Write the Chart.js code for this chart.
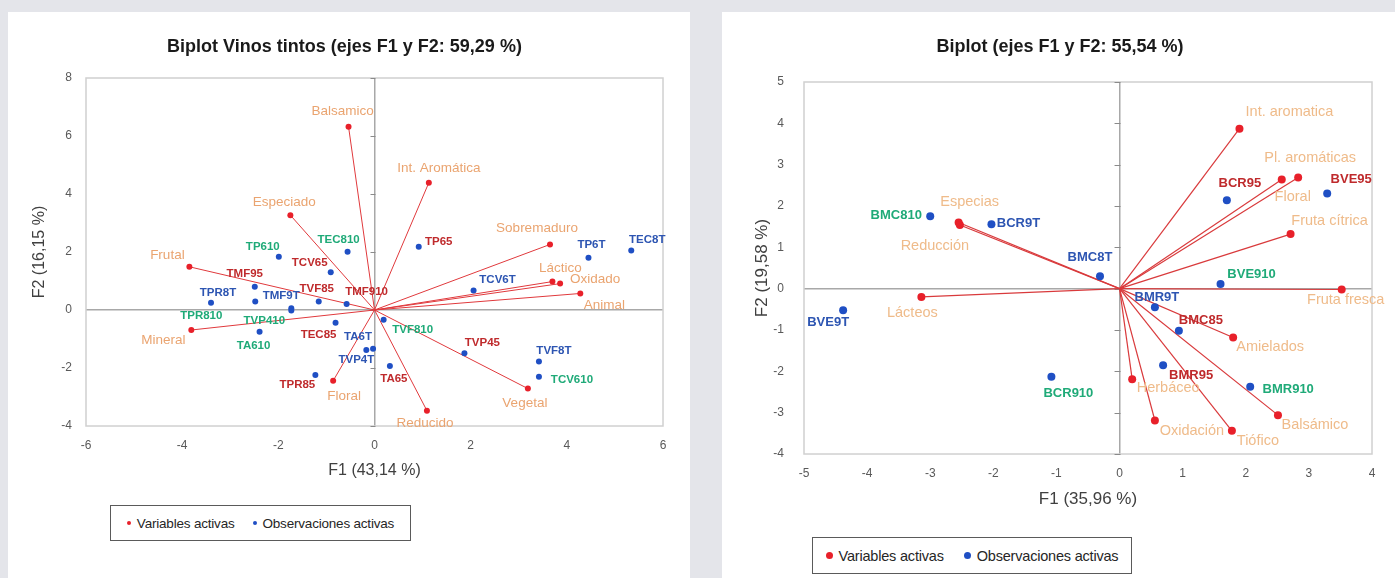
<!DOCTYPE html>
<html>
<head>
<meta charset="utf-8">
<script src="https://cdn.jsdelivr.net/npm/chart.js@4.4.1/dist/chart.umd.min.js"></script>
<style>
  body { margin: 0; width: 1395px; height: 578px; background: #e4e5ea; position: relative; overflow: hidden; font-family: 'Liberation Sans', Arial, sans-serif; }
  .panel { position: absolute; top: 12px; height: 566px; background: #fff; }
  #leftPanel { left: 8px; width: 682px; }
  #rightPanel { left: 722px; width: 673px; }
  .chartBox { position: absolute; left: 0; top: 0; width: 100%; height: 100%; }
  .legend { position: absolute; box-sizing: border-box; border: 1px solid #5a5a5a; background: #fff; display: flex; align-items: center; justify-content: center; white-space: nowrap; font-family: 'Liberation Sans', Arial, sans-serif; color: #262626; }
  .legend span { display: inline-flex; align-items: center; }
  .legend i { display: inline-block; border-radius: 50%; margin-right: 6px; }
  #leftLegend { left: 102px; top: 493px; width: 301px; height: 36px; font-size: 13.5px; gap: 18px; letter-spacing: -0.2px; }
  #leftLegend i { width: 4px; height: 4px; }
  #rightLegend { left: 90px; top: 525px; width: 320px; height: 37px; font-size: 14.5px; gap: 20px; letter-spacing: -0.2px; }
  #rightLegend i { width: 7px; height: 7px; }
</style>
</head>
<body>
<div class="panel" id="leftPanel">
  <div class="chartBox"><canvas id="tintos"></canvas></div>
  <div class="legend" id="leftLegend">
    <span><i style="background:#e8202a"></i>Variables activas</span>
    <span><i style="background:#1f4fc4"></i>Observaciones activas</span>
  </div>
</div>
<div class="panel" id="rightPanel">
  <div class="chartBox"><canvas id="blancos"></canvas></div>
  <div class="legend" id="rightLegend">
    <span><i style="background:#e8202a"></i>Variables activas</span>
    <span><i style="background:#1f4fc4"></i>Observaciones activas</span>
  </div>
</div>
<script>
// ---- Vinos tintos (left) ----
const tintoVarNames = ["Balsamico", "Especiado", "Frutal", "Mineral", "Floral", "Int. Aromática",
  "Sobremaduro", "Láctico", "Oxidado", "Animal", "Vegetal", "Reducido"];
const tintoVarF1 = [-0.54, -1.75, -3.85, -3.81, -0.86, 1.13, 3.65, 3.70, 3.86, 4.28, 3.19, 1.09];
const tintoVarF2 = [6.32, 3.27, 1.49, -0.69, -2.44, 4.39, 2.26, 0.98, 0.91, 0.57, -2.71, -3.47];

const tintoObsNames = ["TEC810", "TP610", "TCV65", "TMF95", "TMF9T", "TPR8T", "TPR810", "TVP410",
  "TVF85", "TMF910", "TEC85", "TA610", "TVP4T", "TA6T", "TPR85", "TVF810", "TA65", "TVP45",
  "TVF8T", "TCV610", "TCV6T", "TP65", "TP6T", "TEC8T"];
const tintoObsF1 = [-0.56, -1.99, -0.91, -2.49, -2.48, -3.40, -1.73, -1.73, -1.16, -0.58, -0.81, -2.39,
  -0.17, -0.03, -1.23, 0.19, 0.32, 1.87, 3.42, 3.42, 2.06, 0.92, 4.45, 5.34];
const tintoObsF2 = [2.01, 1.84, 1.30, 0.80, 0.29, 0.25, 0.06, -0.02, 0.29, 0.21, -0.44, -0.75,
  -1.38, -1.34, -2.24, -0.34, -1.93, -1.49, -1.78, -2.30, 0.67, 2.18, 1.80, 2.05];
const tintoObsGroup = ["g", "g", "r", "r", "b", "b", "g", "g", "r", "r", "r", "g",
  "b", "b", "r", "g", "r", "r", "b", "g", "b", "r", "b", "b"];

// ---- Biplot (right) ----
const blancoVarNames = ["Int. aromatica", "Pl. aromáticas", "Floral", "Fruta cítrica", "Fruta fresca",
  "Amielados", "Herbáceo", "Oxidación", "Tiófico", "Balsámico", "Especias", "Reducción", "Lácteos"];
const blancoVarF1 = [1.90, 2.83, 2.57, 2.71, 3.52, 1.80, 0.20, 0.56, 1.78, 2.51, -2.55, -2.53, -3.14];
const blancoVarF2 = [3.87, 2.69, 2.64, 1.32, -0.02, -1.18, -2.19, -3.19, -3.44, -3.06, 1.60, 1.54, -0.20];

const blancoObsNames = ["BMC810", "BCR9T", "BMC8T", "BCR95", "BVE95", "BVE910", "BMR9T", "BMC85",
  "BMR95", "BMR910", "BCR910", "BVE9T"];
const blancoObsF1 = [-3.00, -2.03, -0.31, 1.70, 3.29, 1.60, 0.56, 0.94, 0.69, 2.07, -1.08, -4.38];
const blancoObsF2 = [1.75, 1.56, 0.30, 2.14, 2.30, 0.11, -0.45, -1.02, -1.85, -2.37, -2.13, -0.52];
const blancoObsGroup = ["g", "b", "b", "r", "r", "g", "b", "r", "r", "g", "g", "b"];

// label placement (pixel offsets from the point), kept apart from the data
const tintoLabelOffsets = {
  "Balsamico": [-6, -15], "Especiado": [-6, -13], "Frutal": [-22, -12], "Mineral": [-28, 10],
  "Floral": [11, 16], "Int. Aromática": [10, -14], "Sobremaduro": [-13, -16], "Láctico": [8, -13],
  "Oxidado": [35, -4], "Animal": [24, 12], "Vegetal": [-3, 15], "Reducido": [-2, 13],
  "TEC810": [-9, -12], "TP610": [-16, -10], "TCV65": [-21, -9], "TMF95": [-10, -13],
  "TMF9T": [26, -6], "TPR8T": [7, -10], "TPR810": [-90, 8], "TVP410": [-27, 10],
  "TVF85": [-2, -13], "TMF910": [20, -12], "TEC85": [-17, 12], "TA610": [-6, 14],
  "TVP4T": [-10, 10], "TA6T": [-15, -12], "TPR85": [-18, 10], "TVF810": [29, 10],
  "TA65": [4, 13], "TVP45": [18, -10], "TVF8T": [15, -11], "TCV610": [33, 3],
  "TCV6T": [24, -11], "TP65": [20, -5], "TP6T": [3, -13], "TEC8T": [16, -11]
};
const blancoLabelOffsets = {
  "Int. aromatica": [50, -17], "Pl. aromáticas": [12, -19], "Floral": [11, 17], "Fruta cítrica": [39, -13],
  "Fruta fresca": [4, 11], "Amielados": [37, 10], "Herbáceo": [36, 9], "Oxidación": [37, 10],
  "Tiófico": [26, 10], "Balsámico": [37, 10], "Especias": [11, -21], "Reducción": [-25, 21],
  "Lácteos": [-9, 16],
  "BMC810": [-34, -1], "BCR9T": [27, -1], "BMC8T": [-10, -19], "BCR95": [13, -17],
  "BVE95": [24, -14], "BVE910": [31, -10], "BMR9T": [2, -10], "BMC85": [22, -10],
  "BMR95": [28, 10], "BMR910": [38, 3], "BCR910": [17, 17], "BVE9T": [-15, 12]
};

const groupColors = { r: "#bf2a2c", b: "#2d55b2", g: "#1faa78" };

Chart.defaults.font.family = "'Liberation Sans', Arial, sans-serif";
Chart.defaults.color = "#595959";

// frame, ticks on the F2 zero line and point labels
const biplotDecor = {
  id: "biplotDecor",
  beforeDatasetsDraw(chart, args, opts) {
    const { ctx, chartArea: a, scales: { x, y } } = chart;
    ctx.save();
    ctx.strokeStyle = "#d0d0d0";
    ctx.lineWidth = 1.5;
    ctx.strokeRect(a.left, a.top, a.width, a.height);
    const x0 = x.getPixelForValue(0);
    ctx.strokeStyle = "#8a8a8a";
    ctx.lineWidth = 1;
    y.ticks.forEach(t => {
      const py = Math.round(y.getPixelForValue(t.value)) + 0.5;
      ctx.beginPath();
      ctx.moveTo(x0 - opts.tickLen, py);
      ctx.lineTo(x0 + 1, py);
      ctx.stroke();
    });
    ctx.restore();
  },
  afterDatasetsDraw(chart, args, opts) {
    const ctx = chart.ctx;
    ctx.save();
    ctx.textAlign = "center";
    ctx.textBaseline = "middle";
    chart.data.datasets.forEach((ds, di) => {
      if (!ds.pointNames) return;
      const meta = chart.getDatasetMeta(di);
      ctx.font = ds.labelFont;
      meta.data.forEach((pt, i) => {
        const name = ds.pointNames[i];
        const off = opts.offsets[name] || [0, -10];
        ctx.fillStyle = ds.labelColors[i];
        ctx.fillText(name, pt.x + off[0], pt.y + off[1]);
      });
    });
    ctx.restore();
  }
};

function makeBiplot(canvasId, cfg) {
  const varPoints = cfg.varF1.map((v, i) => ({ x: v, y: cfg.varF2[i] }));
  const obsPoints = cfg.obsF1.map((v, i) => ({ x: v, y: cfg.obsF2[i] }));

  const vectors = varPoints.map(p => ({
    data: [{ x: 0, y: 0 }, p],
    showLine: true,
    borderColor: cfg.lineColor,
    borderWidth: cfg.lineWidth,
    pointRadius: 0,
    order: 3
  }));

  const datasets = [
    {
      label: "Observaciones activas",
      data: obsPoints,
      pointNames: cfg.obsNames,
      labelColors: cfg.obsGroup.map(g => groupColors[g]),
      labelFont: cfg.obsFont,
      backgroundColor: "#1f4fc4",
      borderWidth: 0,
      pointRadius: cfg.pointRadius,
      order: 1
    },
    {
      label: "Variables activas",
      data: varPoints,
      pointNames: cfg.varNames,
      labelColors: cfg.varNames.map(() => cfg.varLabelColor),
      labelFont: cfg.varFont,
      backgroundColor: "#e8202a",
      borderWidth: 0,
      pointRadius: cfg.pointRadius,
      order: 2
    }
  ].concat(vectors);

  const zeroGrid = {
    drawTicks: false,
    color: c => (c.tick && c.tick.value === 0 ? "#a8a8a8" : "rgba(0,0,0,0)"),
    lineWidth: 1.5
  };

  return new Chart(document.getElementById(canvasId), {
    type: "scatter",
    data: { datasets },
    plugins: [biplotDecor],
    options: {
      responsive: true,
      maintainAspectRatio: false,
      animation: false,
      layout: { padding: cfg.padding },
      plugins: {
        legend: { display: false },
        tooltip: { enabled: false },
        title: {
          display: true,
          text: cfg.title,
          color: "#1a1a1a",
          font: { size: 18, weight: "bold", lineHeight: 1 },
          padding: { top: 0, bottom: cfg.titleGap }
        },
        biplotDecor: { offsets: cfg.offsets, tickLen: cfg.tickLen }
      },
      scales: {
        x: {
          min: cfg.xMin, max: cfg.xMax,
          ticks: { stepSize: cfg.xStep, padding: cfg.xTickPad, font: { size: 12 } },
          grid: zeroGrid,
          border: { display: false },
          title: { display: true, text: cfg.xTitle, color: "#404040", font: { size: cfg.axisTitleSize } },
          afterFit(scale) { scale.height = cfg.xAxisHeight; }
        },
        y: {
          min: cfg.yMin, max: cfg.yMax,
          ticks: { stepSize: cfg.yStep, padding: cfg.yTickPad, font: { size: 12 } },
          grid: zeroGrid,
          border: { display: false },
          title: { display: true, text: cfg.yTitle, color: "#404040", font: { size: cfg.axisTitleSize } },
          afterFit(scale) { scale.width = cfg.yAxisWidth; }
        }
      }
    }
  });
}

makeBiplot("tintos", {
  title: "Biplot Vinos tintos (ejes F1 y F2: 59,29 %)",
  xTitle: "F1 (43,14 %)", yTitle: "F2 (16,15 %)",
  varNames: tintoVarNames, varF1: tintoVarF1, varF2: tintoVarF2,
  obsNames: tintoObsNames, obsF1: tintoObsF1, obsF2: tintoObsF2, obsGroup: tintoObsGroup,
  offsets: tintoLabelOffsets,
  xMin: -6, xMax: 6, xStep: 2, yMin: -4, yMax: 8, yStep: 2,
  padding: { top: 26, left: 18, right: 27, bottom: 94 },
  titleGap: 22, yAxisWidth: 60, xAxisHeight: 58, xTickPad: 12, yTickPad: 14,
  axisTitleSize: 16, tickLen: 4,
  lineColor: "#e0393c", lineWidth: 1, pointRadius: 3,
  varLabelColor: "#eaa470",
  varFont: "13.5px 'Liberation Sans', Arial, sans-serif",
  obsFont: "bold 11.5px 'Liberation Sans', Arial, sans-serif"
});

makeBiplot("blancos", {
  title: "Biplot (ejes F1 y F2: 55,54 %)",
  xTitle: "F1 (35,96 %)", yTitle: "F2 (19,58 %)",
  varNames: blancoVarNames, varF1: blancoVarF1, varF2: blancoVarF2,
  obsNames: blancoObsNames, obsF1: blancoObsF1, obsF2: blancoObsF2, obsGroup: blancoObsGroup,
  offsets: blancoLabelOffsets,
  xMin: -5, xMax: 4, xStep: 1, yMin: -4, yMax: 5, yStep: 1,
  padding: { top: 26, left: 26, right: 23, bottom: 64 },
  titleGap: 26, yAxisWidth: 56, xAxisHeight: 60, xTickPad: 12, yTickPad: 20,
  axisTitleSize: 17, tickLen: 5,
  lineColor: "#d93a3c", lineWidth: 1.2, pointRadius: 4,
  varLabelColor: "#efbb8a",
  varFont: "14.5px 'Liberation Sans', Arial, sans-serif",
  obsFont: "bold 13px 'Liberation Sans', Arial, sans-serif"
});
</script>
</body>
</html>
